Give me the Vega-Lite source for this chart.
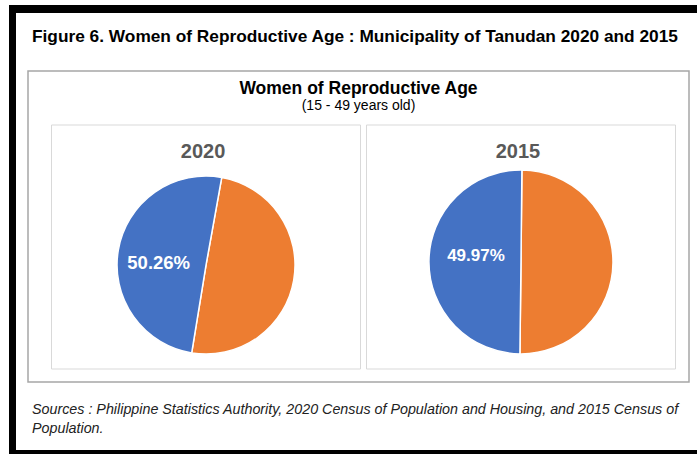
{
  "$schema": "https://vega.github.io/schema/vega-lite/v6.json",
  "background": "white",
  "padding": {"left": 9, "top": 5, "right": 0, "bottom": 0},
  "config": {"view": {"stroke": null}, "font": "Liberation Sans", "concat": {"spacing": 0}},
  "datasets": {
    "shares": [
      {"year": "2020", "group": "Others", "share": 0.4974},
      {"year": "2020", "group": "Women 15-49", "share": 0.5026},
      {"year": "2015", "group": "Others", "share": 0.5003},
      {"year": "2015", "group": "Women 15-49", "share": 0.4997}
    ],
    "panels": [{"year": "2020"}, {"year": "2015"}]
  },
  "spacing": 0,
  "hconcat": [
    {"data": {"values": []}, "mark": "point", "encoding": {}, "width": 7, "height": 449, "view": {"fill": "black", "stroke": null}},
    {
      "spacing": 0,
      "vconcat": [
        {"data": {"values": []}, "mark": "point", "encoding": {}, "width": 681, "height": 8, "view": {"fill": "black", "stroke": null}},
        {"data": {"values": []}, "mark": "point", "encoding": {}, "width": 681, "height": 57,
          "title": {"text": "Figure 6. Women of Reproductive Age : Municipality of Tanudan  2020 and 2015", "anchor": "start", "frame": "group", "offset": -32, "dx": 16, "fontSize": 17.3, "fontWeight": "bold", "color": "black", "font": "Liberation Sans"}},
        {
          "spacing": 0,
          "bounds": "flush",
          "hconcat": [
            {"data": {"values": []}, "mark": "point", "encoding": {}, "width": 12, "height": 311},
            {
              "width": 661,
              "height": 311,
              "view": {"stroke": "#a6a6a6", "strokeWidth": 1.5, "fill": "white"},
              "title": {"text": "Women of Reproductive Age", "subtitle": "(15 - 49 years old)", "anchor": "middle", "offset": -42, "fontSize": 17.5, "fontWeight": "bold", "color": "black", "font": "Liberation Sans", "subtitleFont": "Liberation Sans", "subtitleFontSize": 14, "subtitleColor": "black", "subtitlePadding": 2},
              "resolve": {"scale": {"theta": "independent"}},
              "layer": [
                {
                  "data": {"name": "panels"},
                  "mark": {"type": "rect", "filled": false, "stroke": "#d9d9d9", "strokeWidth": 1},
                  "encoding": {
                    "x": {"field": "year", "type": "nominal", "axis": null, "scale": {"type": "band", "domain": ["2020", "2015"], "range": [10, 661], "paddingInner": 0.019, "paddingOuter": 0.0429}},
                    "y": {"datum": "pie", "type": "nominal", "axis": null, "scale": {"type": "band", "range": [54, 298], "paddingInner": 0, "paddingOuter": 0}}
                  }
                },
                {
                  "data": {"name": "panels"},
                  "mark": {"type": "text", "fontSize": 20, "fontWeight": "bold", "color": "#595959", "baseline": "middle", "dx": -3},
                  "encoding": {
                    "x": {"field": "year", "type": "nominal"},
                    "y": {"datum": "pie", "type": "nominal", "bandPosition": 0.11},
                    "text": {"field": "year"}
                  }
                },
                {
                  "data": {"name": "shares"},
                  "transform": [{"filter": "datum.year === '2020'"}],
                  "layer": [
                    {
                      "mark": {"type": "arc", "outerRadius": 89, "stroke": "white", "strokeWidth": 1.5},
                      "encoding": {
                        "x": {"field": "year", "type": "nominal"},
                        "y": {"datum": "pie", "type": "nominal", "bandPosition": 0.574},
                        "theta": {"field": "share", "type": "quantitative", "stack": true, "scale": {"domain": [0, 1], "range": [0.178, 6.461]}},
                        "color": {"field": "group", "type": "nominal", "legend": null, "scale": {"domain": ["Women 15-49", "Others"], "range": ["#4472c4", "#ed7d31"]}},
                        "order": {"field": "group", "sort": "ascending"}
                      }
                    },
                    {
                      "mark": {"type": "text", "radius": 48, "fontSize": 18.5, "fontWeight": "bold", "color": "white", "dy": 6},
                      "encoding": {
                        "x": {"field": "year", "type": "nominal"},
                        "y": {"datum": "pie", "type": "nominal", "bandPosition": 0.574},
                        "theta": {"field": "share", "type": "quantitative", "stack": true},
                        "detail": {"field": "group"},
                        "order": {"field": "group", "sort": "ascending"},
                        "text": {"condition": {"test": "datum.group === 'Women 15-49'", "field": "share", "type": "quantitative", "format": ".2%"}, "value": ""}
                      }
                    }
                  ]
                },
                {
                  "data": {"name": "shares"},
                  "transform": [{"filter": "datum.year === '2015'"}],
                  "layer": [
                    {
                      "mark": {"type": "arc", "outerRadius": 92, "stroke": "white", "strokeWidth": 1.5},
                      "encoding": {
                        "x": {"field": "year", "type": "nominal"},
                        "y": {"datum": "pie", "type": "nominal", "bandPosition": 0.561},
                        "theta": {"field": "share", "type": "quantitative", "stack": true, "scale": {"domain": [0, 1], "range": [0.01, 6.293]}},
                        "color": {"field": "group", "type": "nominal", "legend": null},
                        "order": {"field": "group", "sort": "ascending"}
                      }
                    },
                    {
                      "mark": {"type": "text", "radius": 45, "fontSize": 17, "fontWeight": "bold", "color": "white", "dy": -5},
                      "encoding": {
                        "x": {"field": "year", "type": "nominal"},
                        "y": {"datum": "pie", "type": "nominal", "bandPosition": 0.561},
                        "theta": {"field": "share", "type": "quantitative", "stack": true},
                        "detail": {"field": "group"},
                        "order": {"field": "group", "sort": "ascending"},
                        "text": {"condition": {"test": "datum.group === 'Women 15-49'", "field": "share", "type": "quantitative", "format": ".2%"}, "value": ""}
                      }
                    }
                  ]
                }
              ]
            }
          ]
        },
        {"data": {"values": []}, "mark": "point", "encoding": {}, "width": 681, "height": 67,
          "title": {"text": ["Sources : Philippine Statistics Authority, 2020 Census of Population and Housing, and 2015 Census of", "Population."], "anchor": "start", "frame": "group", "offset": -53, "dx": 16, "fontSize": 14.3, "fontWeight": "normal", "fontStyle": "italic", "lineHeight": 19, "color": "#222222", "font": "Liberation Sans"}},
        {"data": {"values": []}, "mark": "point", "encoding": {}, "width": 681, "height": 6, "view": {"fill": "black", "stroke": null}}
      ]
    }
  ]
}
